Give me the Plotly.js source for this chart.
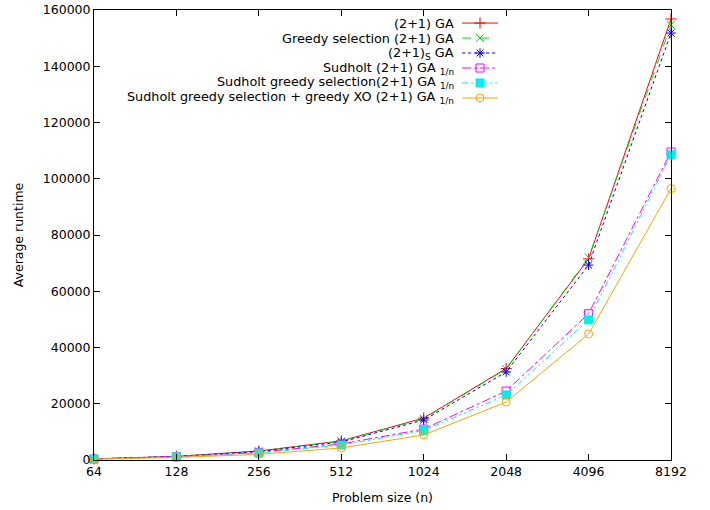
<!DOCTYPE html>
<html><head><meta charset="utf-8">
<script src="https://cdn.plot.ly/plotly-3.0.1.min.js"></script>
<style>html,body{margin:0;padding:0;background:#fff}#c{width:710px;height:510px}</style>
</head><body><div id="c"></div>
<script>
const sizes = ['64','128','256','512','1024','2048','4096','8192'];
const ga        = [400, 1300, 3200, 6800, 14900, 32500, 71500, 156800];
const greedyGa  = [400, 1300, 3100, 6700, 14700, 32300, 72000, 154700];
const gaS       = [400, 1250, 3000, 6400, 14200, 31300, 69300, 151800];
const sud       = [350, 1150, 2700, 5700, 11000, 24500, 52000, 109500];
const sudGreedy = [350, 1100, 2500, 5300, 10500, 23100, 49800, 108500];
const sudXO     = [300, 900, 2000, 4300, 8900, 20600, 44800, 96500];

const names = ['(2+1) GA', 'Greedy selection (2+1) GA', '(2+1)<sub>S</sub> GA',
  'Sudholt (2+1) GA <sub>1/n</sub>', 'Sudholt greedy selection(2+1) GA <sub>1/n</sub>',
  'Sudholt greedy selection + greedy XO (2+1) GA <sub>1/n</sub>'];
const series = [ga, greedyGa, gaS, sud, sudGreedy, sudXO];
const colors = ['#ff0000', '#00e600', '#0000ff', '#ff00ff', '#00eeee', '#ffa500'];
const dashes = ['solid', 'dash', 'dot', 'dashdot', '6px,3px,2px,3px,2px,3px', 'solid'];
const symbols = ['cross-thin-open', 'x-thin-open', 'asterisk-open', 'square-open', 'square', 'circle-open'];

const traces = [];
series.forEach((s, i) => {
  traces.push({
    x: sizes, y: s, type: 'scatter', mode: 'lines+markers', name: names[i],
    line: {color: colors[i], width: 1, dash: dashes[i]},
    marker: {symbol: symbols[i], size: 8, color: colors[i], line: {color: colors[i], width: 1}},
    cliponaxis: false, showlegend: false
  });
});

// custom gnuplot-style key: text right-aligned, sample to the right
const keyX0 = 0.638, keyX1 = 0.700, keyTextX = 0.625, keyTop = 0.971, keyStep = 0.0333;
const annotations = [];
series.forEach((s, i) => {
  const ky = keyTop - i * keyStep;
  traces.push({
    x: [keyX0, keyX1], y: [ky, ky], xaxis: 'x2', yaxis: 'y2', type: 'scatter', mode: 'lines',
    line: {color: colors[i], width: 1, dash: dashes[i]}, showlegend: false, hoverinfo: 'skip'
  });
  traces.push({
    x: [(keyX0 + keyX1) / 2], y: [ky], xaxis: 'x2', yaxis: 'y2', type: 'scatter', mode: 'markers',
    marker: {symbol: symbols[i], size: 8, color: colors[i], line: {color: colors[i], width: 1}},
    showlegend: false, hoverinfo: 'skip', cliponaxis: false
  });
  annotations.push({
    xref: 'paper', yref: 'paper', x: keyTextX, y: ky, xanchor: 'right', yanchor: 'middle',
    text: names[i], showarrow: false, borderpad: 0,
    font: {family: 'DejaVu Sans', size: 12.8, color: '#000'}
  });
});

const layout = {
  width: 710, height: 510,
  margin: {l: 94, r: 39, t: 10, b: 50},
  paper_bgcolor: '#fff', plot_bgcolor: '#fff',
  font: {family: 'DejaVu Sans', size: 12.5, color: '#000'},
  showlegend: false,
  xaxis: {
    type: 'category', range: [0, 7], showgrid: false, zeroline: false,
    showline: true, mirror: 'ticks', linecolor: '#000', linewidth: 1,
    ticks: 'inside', ticklen: 6, tickcolor: '#000',
    title: {text: 'Problem size (n)', standoff: 15, font: {size: 12.5}}
  },
  yaxis: {
    range: [0, 160000], dtick: 20000, showgrid: false, zeroline: false,
    showline: true, mirror: 'ticks', linecolor: '#000', linewidth: 1,
    ticks: 'inside', ticklen: 6, tickcolor: '#000', tickformat: 'd',
    title: {text: 'Average runtime', standoff: 16, font: {size: 12.5}}
  },
  xaxis2: {overlaying: 'x', range: [0, 1], visible: false, fixedrange: true},
  yaxis2: {overlaying: 'y', range: [0, 1], visible: false, fixedrange: true},
  annotations: annotations
};

Plotly.newPlot('c', traces, layout, {displayModeBar: false, staticPlot: true});
</script></body></html>
